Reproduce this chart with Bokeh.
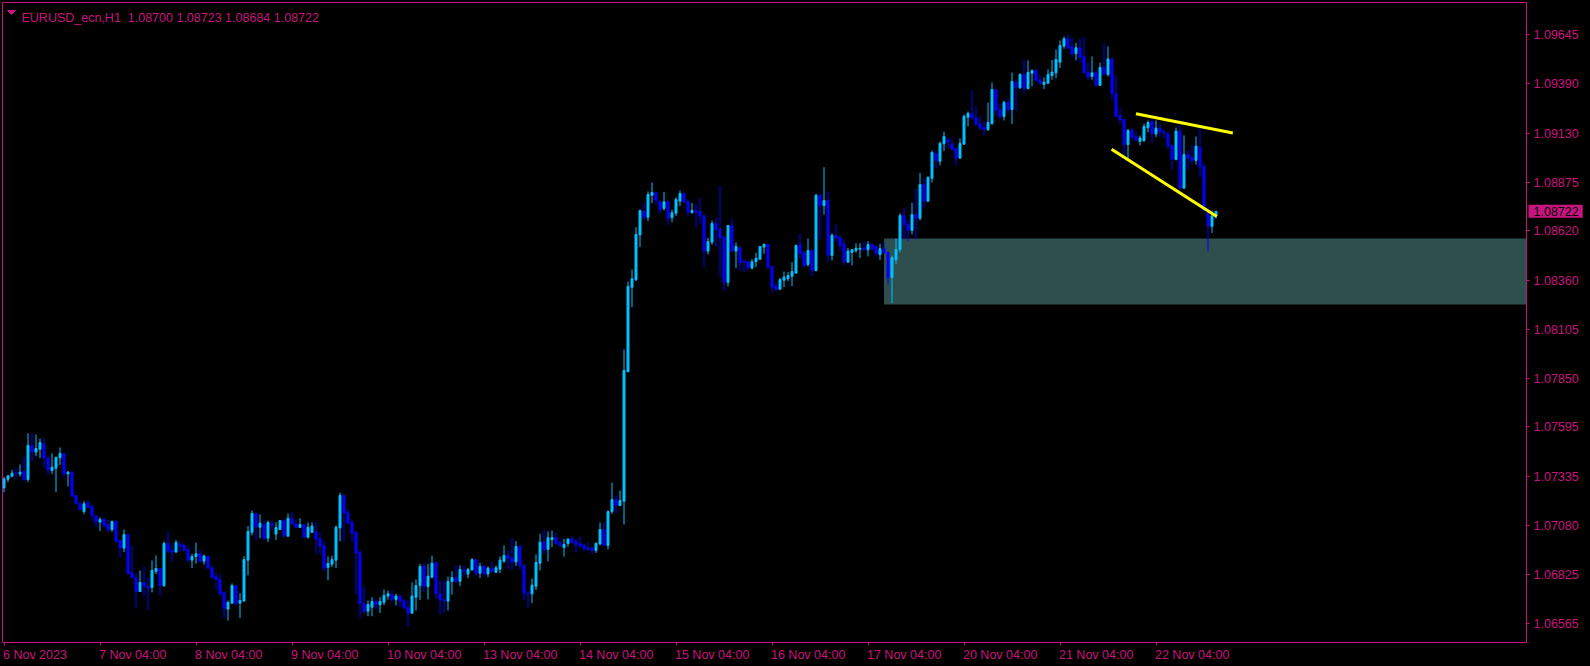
from bokeh.plotting import figure
from bokeh.models import Range1d, FixedTicker, PrintfTickFormatter, Label, ColumnDataSource
from bokeh.embed import file_html
from bokeh.resources import INLINE

# ---------------- data (EURUSD_ecn, H1) ----------------
symbol = "EURUSD_ecn,H1"

opens = [
    1.07276, 1.07321, 1.07337, 1.07351, 1.07348, 1.07362, 1.07320, 1.07498, 1.07463, 1.07478,
    1.07506, 1.07431, 1.07367, 1.07379, 1.07433, 1.07456, 1.07349, 1.07356, 1.07236, 1.07193,
    1.07152, 1.07198, 1.07179, 1.07131, 1.07097, 1.07111, 1.07084, 1.07058, 1.07100, 1.07001,
    1.06961, 1.07032, 1.06833, 1.06807, 1.06734, 1.06781, 1.06762, 1.06755, 1.06840, 1.06854,
    1.06765, 1.06985, 1.06950, 1.06940, 1.06980, 1.06975, 1.06952, 1.06898, 1.06917, 1.06931,
    1.06893, 1.06919, 1.06858, 1.06813, 1.06797, 1.06729, 1.06642, 1.06673, 1.06765, 1.06673,
    1.06684, 1.06898, 1.07044, 1.07142, 1.07070, 1.07084, 1.07013, 1.07088, 1.07034, 1.07058,
    1.07105, 1.07023, 1.07117, 1.07088, 1.07069, 1.07084, 1.07018, 1.07043, 1.07046, 1.07011,
    1.06975, 1.06860, 1.06877, 1.06898, 1.07067, 1.07236, 1.07147, 1.07095, 1.07043, 1.06938,
    1.06670, 1.06631, 1.06652, 1.06682, 1.06664, 1.06678, 1.06710, 1.06718, 1.06692, 1.06710,
    1.06687, 1.06650, 1.06621, 1.06704, 1.06765, 1.06865, 1.06760, 1.06809, 1.06886, 1.06722,
    1.06692, 1.06684, 1.06786, 1.06807, 1.06788, 1.06846, 1.06825, 1.06847, 1.06901, 1.06830,
    1.06865, 1.06826, 1.06856, 1.06835, 1.06851, 1.06893, 1.06922, 1.06910, 1.06889, 1.06969,
    1.06870, 1.06725, 1.06722, 1.06762, 1.06882, 1.06992, 1.06954, 1.07006, 1.07016, 1.06990,
    1.06964, 1.06985, 1.07011, 1.06997, 1.06985, 1.06975, 1.06962, 1.06962, 1.06948, 1.06983,
    1.07058, 1.06975, 1.07152, 1.07215, 1.07184, 1.07206, 1.07884, 1.08325, 1.08364, 1.08599,
    1.08721, 1.08691, 1.08806, 1.08820, 1.08772, 1.08737, 1.08772, 1.08688, 1.08712, 1.08775,
    1.08815, 1.08772, 1.08716, 1.08726, 1.08721, 1.08697, 1.08514, 1.08561, 1.08658, 1.08630,
    1.08585, 1.08351, 1.08648, 1.08514, 1.08531, 1.08460, 1.08460, 1.08425, 1.08458, 1.08472,
    1.08535, 1.08549, 1.08433, 1.08331, 1.08315, 1.08362, 1.08369, 1.08383, 1.08399, 1.08548,
    1.08505, 1.08444, 1.08517, 1.08412, 1.08805, 1.08752, 1.08779, 1.08491, 1.08596, 1.08587,
    1.08552, 1.08456, 1.08507, 1.08517, 1.08524, 1.08529, 1.08521, 1.08548, 1.08538, 1.08496,
    1.08526, 1.08508, 1.08376, 1.08470, 1.08522, 1.08700, 1.08653, 1.08622, 1.08705, 1.08686,
    1.08862, 1.08775, 1.08895, 1.09024, 1.08984, 1.09075, 1.09094, 1.09075, 1.09052, 1.09000,
    1.09073, 1.09214, 1.09234, 1.09211, 1.09180, 1.09160, 1.09150, 1.09181, 1.09359, 1.09253,
    1.09218, 1.09291, 1.09254, 1.09396, 1.09368, 1.09437, 1.09364, 1.09444, 1.09458, 1.09410,
    1.09385, 1.09392, 1.09432, 1.09446, 1.09502, 1.09586, 1.09624, 1.09584, 1.09546, 1.09577,
    1.09532, 1.09450, 1.09427, 1.09446, 1.09380, 1.09474, 1.09437, 1.09519, 1.09336, 1.09223,
    1.09202, 1.09071, 1.09145, 1.09113, 1.09087, 1.09092, 1.09159, 1.09192, 1.09127, 1.09157,
    1.09136, 1.09127, 1.09066, 1.08993, 1.09141, 1.08843, 1.09019, 1.09005, 1.08988, 1.09057,
    1.08956, 1.08726, 1.08644, 1.08700,
]

highs = [
    1.07332, 1.07344, 1.07370, 1.07381, 1.07398, 1.07437, 1.07562, 1.07562, 1.07555, 1.07534,
    1.07538, 1.07445, 1.07456, 1.07440, 1.07487, 1.07456, 1.07365, 1.07367, 1.07236, 1.07206,
    1.07206, 1.07213, 1.07187, 1.07135, 1.07121, 1.07123, 1.07109, 1.07105, 1.07109, 1.07009,
    1.07058, 1.07032, 1.06975, 1.06826, 1.06844, 1.06865, 1.06809, 1.06896, 1.06922, 1.06854,
    1.06996, 1.07048, 1.06980, 1.07004, 1.06997, 1.06987, 1.06975, 1.06931, 1.06990, 1.06954,
    1.06928, 1.06922, 1.06870, 1.06835, 1.06821, 1.06734, 1.06687, 1.06776, 1.06765, 1.06725,
    1.06919, 1.07076, 1.07158, 1.07142, 1.07137, 1.07105, 1.07105, 1.07105, 1.07095, 1.07105,
    1.07112, 1.07142, 1.07152, 1.07111, 1.07117, 1.07084, 1.07095, 1.07095, 1.07095, 1.07044,
    1.06997, 1.06917, 1.06922, 1.07079, 1.07250, 1.07245, 1.07166, 1.07112, 1.07053, 1.06954,
    1.06757, 1.06687, 1.06704, 1.06696, 1.06704, 1.06745, 1.06739, 1.06739, 1.06722, 1.06718,
    1.06696, 1.06692, 1.06781, 1.06797, 1.06879, 1.06886, 1.06879, 1.06922, 1.06891, 1.06792,
    1.06792, 1.06812, 1.06840, 1.06872, 1.06870, 1.06870, 1.06858, 1.06908, 1.06901, 1.06884,
    1.06875, 1.06865, 1.06886, 1.06870, 1.06917, 1.06975, 1.06948, 1.07013, 1.06997, 1.06980,
    1.06879, 1.06739, 1.06802, 1.06928, 1.07036, 1.07058, 1.07048, 1.07053, 1.07041, 1.07001,
    1.07009, 1.07011, 1.07022, 1.07009, 1.07022, 1.06983, 1.06994, 1.06966, 1.06992, 1.07095,
    1.07095, 1.07158, 1.07304, 1.07236, 1.07262, 1.07999, 1.08355, 1.08418, 1.08639, 1.08732,
    1.08765, 1.08826, 1.08873, 1.08820, 1.08782, 1.08824, 1.08779, 1.08731, 1.08796, 1.08831,
    1.08820, 1.08782, 1.08766, 1.08761, 1.08791, 1.08709, 1.08583, 1.08674, 1.08688, 1.08854,
    1.08596, 1.08648, 1.08683, 1.08559, 1.08538, 1.08474, 1.08460, 1.08472, 1.08505, 1.08538,
    1.08554, 1.08552, 1.08433, 1.08351, 1.08374, 1.08407, 1.08404, 1.08456, 1.08548, 1.08604,
    1.08517, 1.08580, 1.08526, 1.08813, 1.08813, 1.08953, 1.08826, 1.08608, 1.08653, 1.08596,
    1.08578, 1.08531, 1.08526, 1.08555, 1.08555, 1.08564, 1.08566, 1.08557, 1.08545, 1.08552,
    1.08559, 1.08508, 1.08491, 1.08580, 1.08712, 1.08740, 1.08678, 1.08766, 1.08840, 1.08923,
    1.08892, 1.08906, 1.09040, 1.09037, 1.09087, 1.09139, 1.09110, 1.09103, 1.09052, 1.09103,
    1.09228, 1.09244, 1.09354, 1.09270, 1.09223, 1.09192, 1.09291, 1.09396, 1.09359, 1.09284,
    1.09301, 1.09315, 1.09448, 1.09410, 1.09444, 1.09511, 1.09511, 1.09464, 1.09469, 1.09437,
    1.09422, 1.09464, 1.09514, 1.09568, 1.09615, 1.09636, 1.09647, 1.09633, 1.09603, 1.09624,
    1.09633, 1.09500, 1.09532, 1.09462, 1.09500, 1.09603, 1.09584, 1.09521, 1.09432, 1.09261,
    1.09202, 1.09153, 1.09159, 1.09139, 1.09118, 1.09180, 1.09197, 1.09206, 1.09197, 1.09180,
    1.09152, 1.09141, 1.09075, 1.09160, 1.09172, 1.09119, 1.09040, 1.09070, 1.09113, 1.09162,
    1.08977, 1.08744, 1.08726, 1.08723,
]

lows = [
    1.07253, 1.07306, 1.07332, 1.07323, 1.07335, 1.07311, 1.07306, 1.07416, 1.07442, 1.07431,
    1.07381, 1.07344, 1.07349, 1.07253, 1.07396, 1.07327, 1.07283, 1.07227, 1.07189, 1.07158,
    1.07138, 1.07172, 1.07105, 1.07070, 1.07050, 1.07067, 1.07044, 1.07046, 1.06992, 1.06912,
    1.06940, 1.06823, 1.06800, 1.06645, 1.06732, 1.06713, 1.06635, 1.06729, 1.06825, 1.06713,
    1.06757, 1.06935, 1.06887, 1.06938, 1.06940, 1.06943, 1.06887, 1.06856, 1.06879, 1.06887,
    1.06875, 1.06853, 1.06800, 1.06745, 1.06717, 1.06596, 1.06582, 1.06670, 1.06661, 1.06596,
    1.06680, 1.06818, 1.07027, 1.07001, 1.07013, 1.07004, 1.06992, 1.07053, 1.07003, 1.07057,
    1.07022, 1.07022, 1.07076, 1.07063, 1.07069, 1.07013, 1.07011, 1.07041, 1.06929, 1.06931,
    1.06839, 1.06792, 1.06861, 1.06856, 1.06997, 1.06996, 1.07088, 1.06992, 1.06718, 1.06595,
    1.06617, 1.06605, 1.06605, 1.06643, 1.06621, 1.06663, 1.06692, 1.06678, 1.06661, 1.06652,
    1.06643, 1.06550, 1.06617, 1.06635, 1.06690, 1.06731, 1.06692, 1.06804, 1.06696, 1.06617,
    1.06621, 1.06635, 1.06718, 1.06778, 1.06762, 1.06818, 1.06804, 1.06844, 1.06814, 1.06804,
    1.06818, 1.06809, 1.06832, 1.06830, 1.06830, 1.06882, 1.06851, 1.06849, 1.06868, 1.06847,
    1.06690, 1.06649, 1.06673, 1.06741, 1.06844, 1.06931, 1.06891, 1.06966, 1.06980, 1.06966,
    1.06917, 1.06969, 1.06983, 1.06940, 1.06962, 1.06943, 1.06948, 1.06926, 1.06935, 1.06975,
    1.06971, 1.06954, 1.07140, 1.07144, 1.07180, 1.07084, 1.07879, 1.08221, 1.08357, 1.08535,
    1.08677, 1.08671, 1.08765, 1.08752, 1.08709, 1.08726, 1.08651, 1.08665, 1.08698, 1.08749,
    1.08765, 1.08695, 1.08709, 1.08639, 1.08657, 1.08430, 1.08496, 1.08547, 1.08535, 1.08378,
    1.08304, 1.08329, 1.08508, 1.08425, 1.08412, 1.08404, 1.08416, 1.08419, 1.08430, 1.08470,
    1.08500, 1.08418, 1.08294, 1.08308, 1.08313, 1.08325, 1.08357, 1.08331, 1.08395, 1.08472,
    1.08426, 1.08433, 1.08383, 1.08409, 1.08575, 1.08705, 1.08456, 1.08465, 1.08561, 1.08514,
    1.08439, 1.08454, 1.08439, 1.08505, 1.08477, 1.08514, 1.08486, 1.08517, 1.08489, 1.08468,
    1.08500, 1.08339, 1.08242, 1.08447, 1.08508, 1.08575, 1.08566, 1.08601, 1.08576, 1.08674,
    1.08740, 1.08773, 1.08873, 1.08948, 1.08963, 1.09037, 1.09051, 1.09040, 1.08963, 1.08998,
    1.09071, 1.09166, 1.09200, 1.09169, 1.09145, 1.09118, 1.09141, 1.09174, 1.09223, 1.09206,
    1.09197, 1.09235, 1.09178, 1.09249, 1.09362, 1.09340, 1.09359, 1.09375, 1.09403, 1.09383,
    1.09361, 1.09389, 1.09410, 1.09418, 1.09471, 1.09572, 1.09568, 1.09528, 1.09511, 1.09502,
    1.09437, 1.09410, 1.09410, 1.09376, 1.09380, 1.09432, 1.09427, 1.09301, 1.09214, 1.09176,
    1.09014, 1.08996, 1.09092, 1.09087, 1.09066, 1.09084, 1.09136, 1.09078, 1.09110, 1.09113,
    1.09101, 1.09044, 1.08939, 1.08988, 1.08840, 1.08843, 1.08939, 1.08967, 1.08967, 1.08901,
    1.08726, 1.08512, 1.08608, 1.08684,
]

closes = [
    1.07323, 1.07339, 1.07353, 1.07348, 1.07358, 1.07320, 1.07498, 1.07463, 1.07482, 1.07513,
    1.07431, 1.07367, 1.07384, 1.07435, 1.07456, 1.07349, 1.07358, 1.07233, 1.07193, 1.07163,
    1.07193, 1.07173, 1.07131, 1.07097, 1.07111, 1.07079, 1.07058, 1.07100, 1.06996, 1.06961,
    1.07032, 1.06828, 1.06807, 1.06734, 1.06781, 1.06762, 1.06752, 1.06844, 1.06854, 1.06765,
    1.06985, 1.06945, 1.06940, 1.06990, 1.06971, 1.06950, 1.06898, 1.06917, 1.06931, 1.06891,
    1.06919, 1.06856, 1.06807, 1.06797, 1.06720, 1.06647, 1.06677, 1.06765, 1.06673, 1.06687,
    1.06901, 1.07048, 1.07142, 1.07070, 1.07091, 1.07011, 1.07095, 1.07079, 1.07069, 1.07105,
    1.07023, 1.07117, 1.07088, 1.07069, 1.07084, 1.07018, 1.07070, 1.07076, 1.07006, 1.06971,
    1.06856, 1.06881, 1.06901, 1.07070, 1.07236, 1.07144, 1.07091, 1.07039, 1.06935, 1.06670,
    1.06629, 1.06666, 1.06682, 1.06664, 1.06682, 1.06713, 1.06722, 1.06694, 1.06710, 1.06684,
    1.06649, 1.06621, 1.06710, 1.06765, 1.06865, 1.06760, 1.06814, 1.06882, 1.06722, 1.06690,
    1.06684, 1.06786, 1.06807, 1.06786, 1.06849, 1.06840, 1.06849, 1.06901, 1.06828, 1.06865,
    1.06826, 1.06856, 1.06837, 1.06858, 1.06898, 1.06922, 1.06908, 1.06887, 1.06969, 1.06868,
    1.06725, 1.06720, 1.06767, 1.06886, 1.06992, 1.06952, 1.07015, 1.07016, 1.06985, 1.06975,
    1.06980, 1.07008, 1.06990, 1.06980, 1.06969, 1.06959, 1.06954, 1.06948, 1.06985, 1.07058,
    1.06975, 1.07152, 1.07215, 1.07184, 1.07210, 1.07890, 1.08329, 1.08369, 1.08601, 1.08726,
    1.08691, 1.08810, 1.08820, 1.08780, 1.08730, 1.08772, 1.08686, 1.08714, 1.08784, 1.08815,
    1.08770, 1.08717, 1.08726, 1.08716, 1.08697, 1.08514, 1.08564, 1.08658, 1.08627, 1.08583,
    1.08351, 1.08648, 1.08514, 1.08538, 1.08453, 1.08456, 1.08425, 1.08458, 1.08477, 1.08538,
    1.08549, 1.08430, 1.08325, 1.08313, 1.08365, 1.08378, 1.08386, 1.08407, 1.08543, 1.08500,
    1.08439, 1.08517, 1.08412, 1.08806, 1.08752, 1.08779, 1.08491, 1.08596, 1.08582, 1.08543,
    1.08456, 1.08514, 1.08521, 1.08529, 1.08529, 1.08521, 1.08548, 1.08526, 1.08500, 1.08526,
    1.08503, 1.08376, 1.08479, 1.08522, 1.08700, 1.08653, 1.08622, 1.08705, 1.08686, 1.08862,
    1.08775, 1.08899, 1.09030, 1.08988, 1.09077, 1.09113, 1.09084, 1.09045, 1.09000, 1.09077,
    1.09218, 1.09234, 1.09211, 1.09178, 1.09157, 1.09150, 1.09186, 1.09359, 1.09249, 1.09218,
    1.09291, 1.09254, 1.09401, 1.09371, 1.09437, 1.09366, 1.09448, 1.09458, 1.09406, 1.09392,
    1.09397, 1.09437, 1.09450, 1.09516, 1.09589, 1.09624, 1.09577, 1.09546, 1.09577, 1.09528,
    1.09448, 1.09424, 1.09446, 1.09380, 1.09474, 1.09441, 1.09519, 1.09336, 1.09218, 1.09200,
    1.09071, 1.09145, 1.09110, 1.09096, 1.09105, 1.09166, 1.09186, 1.09127, 1.09157, 1.09136,
    1.09131, 1.09063, 1.08993, 1.09141, 1.08843, 1.09019, 1.09000, 1.08988, 1.09063, 1.08953,
    1.08726, 1.08644, 1.08698, 1.08722,
]

time_tick_bars = [0, 24, 48, 72, 96, 120, 144, 168, 192, 216, 240, 264, 288]
time_tick_labels = ["6 Nov 2023", "7 Nov 04:00", "8 Nov 04:00", "9 Nov 04:00", "10 Nov 04:00",
                    "13 Nov 04:00", "14 Nov 04:00", "15 Nov 04:00", "16 Nov 04:00",
                    "17 Nov 04:00", "20 Nov 04:00", "21 Nov 04:00", "22 Nov 04:00"]
price_ticks = [1.09645, 1.09390, 1.09130, 1.08875, 1.08620, 1.08360, 1.08105,
               1.07850, 1.07595, 1.07335, 1.07080, 1.06825, 1.06565]

# demand zone rectangle and the two trend lines
zone_start_bar = 220
zone_top = 1.08580
zone_bottom = 1.08235
trend_upper_bars = [283.0, 307.2]
trend_upper_prices = [1.09232, 1.09132]
trend_lower_bars = [276.9, 303.2]
trend_lower_prices = [1.09047, 1.08695]

# ---------------- styling ----------------
MAG = "#C8147E"
UP = "#00BFFF"
DOWN = "#0000FF"
ZONE = "#2F4F4F"
FONT = "Liberation Sans"
FSIZE = 12.5

FL, FT = 2, 2
FW, FH = 1524, 640
PX_PER_BAR = 4.0
X0 = -0.375
Y_TOP = 1.098139
PPX = 5.229e-5

x_range = Range1d(X0, X0 + FW / PX_PER_BAR)
y_range = Range1d(Y_TOP - FH * PPX, Y_TOP)


def xd(px):
    return X0 + (px - FL) / PX_PER_BAR


def yd(py):
    return Y_TOP - (py - FT) * PPX


# approximate advance widths (em) of the label font, used to left-align time labels at their ticks
ADV = {"0": 0.556, "1": 0.556, "2": 0.556, "3": 0.556, "4": 0.556, "5": 0.556, "6": 0.556,
       "7": 0.556, "8": 0.556, "9": 0.556, " ": 0.278, ":": 0.278, "N": 0.722, "o": 0.556,
       "v": 0.5}


def text_w(s):
    return sum(ADV.get(ch, 0.556) for ch in s) * FSIZE


n = len(closes)
bars = list(range(n))
colors = [UP if c >= o else DOWN for o, c in zip(opens, closes)]
src = ColumnDataSource(dict(
    x=bars, o=opens, h=highs, l=lows, c=closes,
    top=[max(o, c) for o, c in zip(opens, closes)],
    bot=[min(o, c) for o, c in zip(opens, closes)],
    col=colors,
))

p = figure(frame_width=FW, frame_height=FH, x_range=x_range, y_range=y_range,
           output_backend="svg", toolbar_location=None, tools="",
           y_axis_location="right",
           min_border_left=FL, min_border_top=FT, min_border_right=64, min_border_bottom=24)
p.background_fill_color = "black"
p.border_fill_color = "black"
p.outline_line_color = MAG
p.outline_line_width = 1
p.grid.visible = False

# price scale (right)
p.yaxis.ticker = FixedTicker(ticks=price_ticks)
p.yaxis.formatter = PrintfTickFormatter(format="%.5f")
p.yaxis.axis_line_color = MAG
p.yaxis.major_tick_line_color = MAG
p.yaxis.major_tick_out = 3
p.yaxis.major_tick_in = 0
p.yaxis.minor_tick_line_color = None
p.yaxis.major_label_standoff = 4
p.yaxis.major_label_text_color = MAG
p.yaxis.major_label_text_font = FONT
p.yaxis.major_label_text_font_size = "%spx" % FSIZE

# time scale (below): tick marks at the bars (minor ticks), labels placed so they start at the tick
label_pos = [round(b + (text_w(lab) / 2 - 1) / PX_PER_BAR, 3)
             for b, lab in zip(time_tick_bars, time_tick_labels)]
p.xaxis.ticker = FixedTicker(ticks=label_pos, minor_ticks=time_tick_bars)
p.xaxis.major_label_overrides = {pos: lab for pos, lab in zip(label_pos, time_tick_labels)}
p.xaxis.axis_line_color = MAG
p.xaxis.major_tick_line_color = None
p.xaxis.major_tick_out = 3
p.xaxis.major_tick_in = 0
p.xaxis.minor_tick_line_color = MAG
p.xaxis.minor_tick_out = 3
p.xaxis.minor_tick_in = 0
p.xaxis.major_label_standoff = 2
p.xaxis.major_label_text_color = MAG
p.xaxis.major_label_text_font = FONT
p.xaxis.major_label_text_font_size = "%spx" % FSIZE

# zone
p.quad(left=[zone_start_bar], right=[x_range.end + 1], top=[zone_top], bottom=[zone_bottom],
       fill_color=ZONE, line_color=None)

# candles
p.segment(x0="x", y0="l", x1="x", y1="h", color="col", line_width=1, source=src)
p.vbar(x="x", width=0.5, top="top", bottom="bot", fill_color="col", line_color="col",
       line_width=1, source=src)

# trend lines
p.line(trend_upper_bars, trend_upper_prices, line_color="#FFFF00", line_width=3)
p.line(trend_lower_bars, trend_lower_prices, line_color="#FFFF00", line_width=3)

# header
p.patch([xd(7), xd(15), xd(11)], [yd(10), yd(10), yd(14)], fill_color=MAG, line_color=MAG)
header = "%s \u00a0%.5f %.5f %.5f %.5f" % (symbol, opens[-1], highs[-1], lows[-1], closes[-1])
p.add_layout(Label(x=xd(21), y=yd(17.3), text=header, text_align="left",
                   text_baseline="alphabetic", text_color=MAG, text_font=FONT,
                   text_font_size="%spx" % FSIZE))

# current price box on the price scale (placed in the right panel so it is not clipped)
p.add_layout(Label(x=xd(FL + FW + 2), y=closes[-1], text="%.5f" % closes[-1],
                   text_align="left", text_baseline="middle", text_color="black",
                   text_font=FONT, text_font_size="%spx" % FSIZE,
                   background_fill_color=MAG,
                   padding=dict(left=5, right=4, top=2, bottom=2)), "right")

html = file_html(p, INLINE, title=symbol)
html = html.replace("<head>", "<head>\n<style>html, body {margin:0; padding:0; "
                    "background:#000000; overflow:hidden;}</style>", 1)
open("out.html", "w").write(html)
